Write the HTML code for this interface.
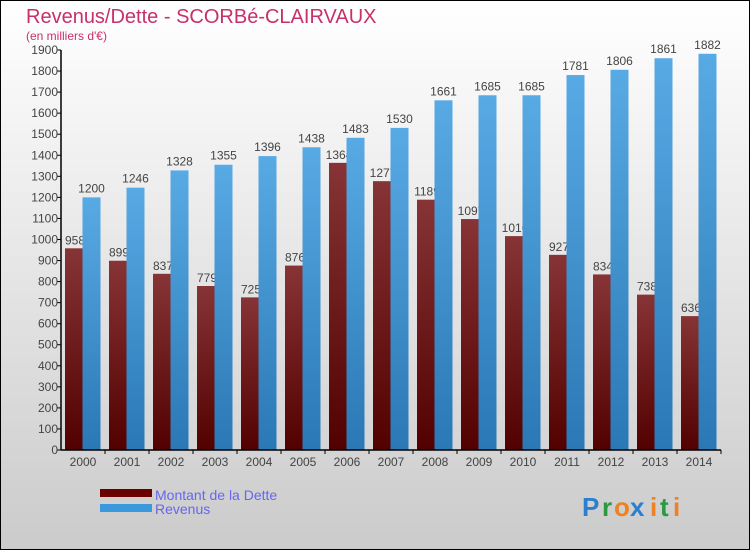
<!DOCTYPE html>
<html><head><meta charset="utf-8"><style>
html,body{margin:0;padding:0;}
body{width:750px;height:550px;overflow:hidden;font-family:"Liberation Sans",sans-serif;}
</style></head><body>
<svg width="750" height="550" xmlns="http://www.w3.org/2000/svg">
<defs>
<linearGradient id="bg" x1="0" y1="0" x2="0" y2="1"><stop offset="0" stop-color="#ffffff"/><stop offset="1" stop-color="#cbcbcb"/></linearGradient>
<linearGradient id="gd" x1="0" y1="0" x2="0" y2="1"><stop offset="0" stop-color="#873436"/><stop offset="1" stop-color="#520000"/></linearGradient>
<linearGradient id="gr" x1="0" y1="0" x2="0" y2="1"><stop offset="0" stop-color="#58aae5"/><stop offset="1" stop-color="#2a78b5"/></linearGradient>
</defs>
<rect x="0.5" y="0.5" width="749" height="549" fill="url(#bg)" stroke="#000"/>
<text x="26" y="23" font-size="20" fill="#c8306a">Revenus/Dette - SCORBé-CLAIRVAUX</text>
<text x="26" y="40" font-size="12" fill="#c8306a">(en milliers d'€)</text>
<g id="plot"></g>
<rect x="100" y="489" width="52" height="8" fill="#6a0000"/>
<rect x="100" y="504" width="52" height="8" fill="#3a98dc"/>
<text x="155" y="500" font-size="14" fill="#6666ee">Montant de la Dette</text>
<text x="155" y="514" font-size="14" fill="#6666ee">Revenus</text>
<g font-size="26" font-weight="bold">
<text x="582" y="516" fill="#2a7fd0">P</text><text x="602" y="516" fill="#2a9a40">r</text><text x="614" y="516" fill="#f08020">o</text><text x="630" y="516" fill="#2a7fd0">x</text><text x="650" y="516" fill="#f08020">i</text><text x="660" y="516" fill="#2a9a40">t</text><text x="673" y="516" fill="#f08020">i</text>
</g>
</svg>
<script>
const years=["2000","2001","2002","2003","2004","2005","2006","2007","2008","2009","2010","2011","2012","2013","2014"];
const dette=[958,899,837,779,725,876,1364,1277,1189,1097,1016,927,834,738,636];
const revenus=[1200,1246,1328,1355,1396,1438,1483,1530,1661,1685,1685,1781,1806,1861,1882];
const ticks=[0,100,200,300,400,500,600,700,800,900,1000,1100,1200,1300,1400,1500,1600,1700,1800,1900];
const NS="http://www.w3.org/2000/svg";
const g=document.getElementById('plot');
const x0=61,y0=450,ymax=1900,h=400,step=44;
const Y=v=>y0-v/ymax*h;
const X=i=>x0+i*step;
function mk(t,a,p){const e=document.createElementNS(NS,t);for(const k in a)e.setAttribute(k,a[k]);(p||g).appendChild(e);return e;}
years.forEach((yr,i)=>{
  const bx=X(i)+4;
  const d=mk('rect',{x:bx,y:Y(dette[i]),width:17.5,height:y0-Y(dette[i]),fill:'url(#gd)'});
  
  
  const dl=mk('text',{x:bx+10,y:Y(dette[i])-4,'font-size':12,fill:'#444','text-anchor':'middle'});
  dl.textContent=dette[i];
  
  
  const r=mk('rect',{x:bx+17.5,y:Y(revenus[i]),width:18,height:y0-Y(revenus[i]),fill:'url(#gr)'});
  
  
  const rl=mk('text',{x:bx+26.5,y:Y(revenus[i])-5,'font-size':12,fill:'#444','text-anchor':'middle'});
  rl.textContent=revenus[i];
  
  
  const xl=mk('text',{x:X(i)+22,y:466,'font-size':12,fill:'#444','text-anchor':'middle'});
  xl.textContent=yr;
  
  
  const xt=mk('line',{x1:X(i)+step,x2:X(i)+step,y1:y0,y2:y0+4,stroke:'#000'});
  
  
});
ticks.forEach(t=>{
  const l=mk('line',{x1:x0-4,x2:x0,y1:Y(t),y2:Y(t),stroke:'#000'});
  
  
  const tx=mk('text',{x:x0-3,y:Y(t)+4,'font-size':12,fill:'#444','text-anchor':'end'});
  tx.textContent=t;
  
  
});
const ya=mk('line',{x1:x0,x2:x0,y1:Y(1900),y2:y0,stroke:'#000','stroke-width':1.5});


const xa=mk('line',{x1:x0,x2:X(15),y1:y0,y2:y0,stroke:'#000','stroke-width':1.5});


</script>
</body></html>
